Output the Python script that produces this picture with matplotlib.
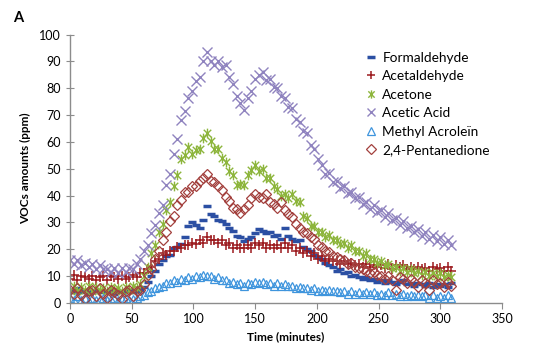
import matplotlib
matplotlib.use("Agg")
import matplotlib.pyplot as plt
from matplotlib.path import Path

plt.rcParams['font.family'] = ['Lato', 'DejaVu Sans']

time_min = list(range(0, 310, 3))

formaldehyde = [
    5, 4, 5.5, 4, 5, 3.5, 4.5, 5, 4, 4.5,
    4, 5, 3.5, 4.5, 4, 4.5, 5, 4, 4.5, 5,
    6, 8, 10, 12, 14.5, 16, 17.5, 18, 20.5, 21,
    22, 24.5, 28.5, 30, 29, 28, 31, 36, 33, 32.5,
    31, 30.5, 29.5, 28, 27, 25, 24.5, 23, 24, 24.5,
    26, 27.5, 27, 26, 26.5, 25, 25.5, 24, 28, 25,
    24, 23, 23.5, 21, 20, 19.5, 18, 17, 16.5, 15,
    14, 13.5, 12, 12.5, 11, 11.5, 10, 10.5, 9.5, 9,
    9.5, 8.5, 9, 8, 8.5, 7.5, 8.5, 8, 7, 8,
    8.5, 7, 7.5, 6.5, 7.5, 7, 6.5, 7.5, 6, 7,
    6.5, 7, 6, 7.5]

acetaldehyde = [
    9, 10.5, 8.5, 10, 9.5, 9, 10, 8.5, 9.5, 10,
    8.5, 10, 9.5, 9, 10, 9, 9.5, 10.5, 9.5, 11,
    11, 12.5, 13.5, 15.5, 16.5, 18.5, 18, 19.5, 19.5, 21,
    20.5, 21.5, 21.5, 22.5, 22, 23.5, 22.5, 24.5, 23.5, 23.5,
    22.5, 23.5, 21.5, 22.5, 20.5, 21.5, 20.5, 20.5, 21.5, 20.5,
    22.5, 21.5, 22.5, 20.5, 21.5, 20.5, 21.5, 20.5, 22.5, 20.5,
    21.5, 19.5, 20.5, 18.5, 19.5, 17.5, 18.5, 16.5, 17.5, 15.5,
    16.5, 15.5, 15.5, 14.5, 15.5, 14.5, 15, 14, 14.5, 13.5,
    14.5, 13.5, 14, 13.5, 14, 13, 14.5, 12.5, 14, 13.5,
    14, 12.5, 13.5, 12.5, 13.5, 12.5, 13, 12, 13.5, 12.5,
    13, 12, 13.5, 12]

acetone = [
    5, 6.5, 4.5, 6, 5, 6.5, 4.5, 6, 5, 5.5,
    4.5, 6, 5, 5.5, 4.5, 6, 5, 6.5, 5.5, 7,
    10, 13.5, 18.5, 21.5, 26.5, 29.5, 34.5, 37.5, 43.5, 47.5,
    53.5, 55, 58, 55.5, 57, 57.5, 61.5, 63.5, 60.5, 57.5,
    57.5, 54, 52.5, 49, 47.5, 44, 44.5, 44, 47.5, 49.5,
    51.5, 49, 50, 46.5, 46.5, 43.5, 42.5, 40, 40.5, 39,
    40.5, 38, 37.5, 32.5, 31.5, 28.5, 28.5, 26.5, 26.5, 24.5,
    25.5, 23.5, 23.5, 22, 22.5, 20.5, 21.5, 19.5, 19.5, 17.5,
    18.5, 16.5, 16.5, 15, 15.5, 14, 14.5, 13, 13.5, 12,
    13, 11.5, 12.5, 11, 12, 10.5, 11.5, 10, 11, 10,
    11, 9.5, 10.5, 9.5]

acetic_acid = [
    16, 14.5, 16, 14, 15, 13.5, 14.5, 12.5, 14, 12.5,
    12.5, 11.5, 13, 11, 13, 11.5, 13, 12.5, 14.5, 16.5,
    19.5, 21.5, 26, 29, 33.5, 36.5, 44, 48, 55.5, 61,
    68, 71.5, 76.5, 79, 82.5, 84, 90, 93.5, 90, 88.5,
    90, 88, 88.5, 84, 81.5, 77, 74.5, 72, 76.5, 79,
    83.5, 85, 86, 83, 83.5, 80.5, 80, 77, 76.5, 73,
    72.5, 68.5, 67.5, 64, 63.5, 59, 57.5, 53.5, 51.5, 48,
    48.5, 45, 45.5, 43, 43.5, 41, 41.5, 39, 39.5, 37,
    37.5, 35, 36.5, 34, 34.5, 32, 33.5, 31, 31.5, 29,
    30.5, 28, 28.5, 26.5, 27.5, 25, 26.5, 24, 25.5, 23,
    24.5, 22, 23.5, 21.5]

methyl_acrolein = [
    2, 1, 2.5, 1, 2, 0.8, 2, 1, 1.5, 2,
    1, 1.5, 2, 1, 1.5, 2, 1, 1.5, 2, 2.5,
    3, 4, 4.5, 5.5, 6, 6.5, 7.5, 7.5, 8.5, 8,
    9, 8.5, 9.5, 9, 10, 9.5, 10.5, 10, 10, 9,
    9.5, 8.5, 8.5, 7.5, 8, 7, 7.5, 6.5, 7.5, 7,
    8, 7.5, 8, 7, 7.5, 6.5, 7.5, 6.5, 7, 6.5,
    6.5, 5.5, 6, 5.5, 5.5, 5, 5.5, 4.5, 5, 4.5,
    5, 4.5, 4.5, 4, 4.5, 3.5, 4.5, 3.5, 4, 3.5,
    4, 3.5, 4, 3, 3.5, 3, 4, 3, 3.5, 2.5,
    3.5, 2.5, 3, 2.5, 3, 2.5, 3, 2, 3, 2,
    2.5, 2, 3, 2]

pentanedione = [
    5, 3.5, 5.5, 3, 1.5, 4.5, 5, 2.5, 5.5, 3.5,
    2, 5, 4, 3, 1.5, 4.5, 5, 2.5, 4.5, 5,
    7, 10.5, 12.5, 16.5, 19.5, 23.5, 26.5, 30.5, 32.5, 36.5,
    38.5, 41.5, 41.5, 43.5, 43.5, 45.5, 46.5, 48, 45.5, 45,
    43.5, 42, 39.5, 38, 35.5, 35, 33.5, 35, 36.5, 39,
    40.5, 39.5, 39, 40.5, 37.5, 37, 35.5, 37.5, 34.5, 33,
    32, 29.5, 28, 26.5, 26, 24.5, 24, 21.5, 21, 19.5,
    19, 17.5, 17, 16.5, 16, 14.5, 15, 13.5, 13, 12.5,
    12, 11, 11.5, 10.5, 10, 9, 10, 8.5, 5, 9.5,
    9, 7.5, 9, 8, 6, 8.5, 7.5, 5, 8.5, 7,
    7.5, 6, 8, 6.5]

labels = ["Formaldehyde", "Acetaldehyde", "Acetone", "Acetic Acid",
          "Methyl Acroleïn", "2,4-Pentanedione"]

# Excel-like star marker: x with vertical bar
star = Path([(-1, -1), (1, 1), (-1, 1), (1, -1), (0, -1.3), (0, 1.3)],
            [Path.MOVETO, Path.LINETO, Path.MOVETO, Path.LINETO,
             Path.MOVETO, Path.LINETO])

fig = plt.figure(figsize=(5.47, 3.48), dpi=100)
ax = fig.add_axes([70/547, 1-303/348, (502-70)/547, (303-34.5)/348])

styles = [
    (formaldehyde, dict(marker='_', color='#2b4fa3', ms=6, mew=2.5)),
    (acetaldehyde, dict(marker='+', color='#9c1b1f', ms=7, mew=1.1)),
    (acetone, dict(marker=star, color='#8db53c', ms=7, mew=1.0)),
    (acetic_acid, dict(marker='x', color='#8f83bf', ms=7, mew=1.0)),
    (methyl_acrolein, dict(marker='^', color='#3f95dd', mfc='none', ms=6, mew=0.9)),
    (pentanedione, dict(marker='D', color='#a3403d', mfc='none', ms=5.5, mew=0.9)),
]
handles = []
for (vals, st), lab in zip(styles, labels):
    h, = ax.plot(time_min, vals, linestyle='none', label=lab, **st)
    handles.append(h)

ax.set_xlim(0, 350)
ax.set_ylim(0, 100)
ax.set_xticks(range(0, 351, 50))
ax.set_yticks(range(0, 101, 10))
for s in ['top', 'right']:
    ax.spines[s].set_visible(False)
for s in ['left', 'bottom']:
    ax.spines[s].set_color('#8c8c8c')
    ax.spines[s].set_linewidth(1.0)
ax.tick_params(axis='both', colors='#8c8c8c', labelcolor='black',
               labelsize=9, length=4, direction='out')
ax.tick_params(axis='y', direction='inout', length=6)

ax.set_xlabel("Time (minutes)", fontsize=8.5, fontweight='bold', labelpad=4)
ax.set_ylabel("VOCs amounts (ppm)", fontsize=8.5, fontweight='bold', labelpad=6)

leg = fig.legend(handles=handles, loc='upper left',
                 bbox_to_anchor=(366/547, 1-51.5/348), frameon=False,
                 fontsize=9.8, handlelength=0.8, handletextpad=0.4,
                 labelspacing=0.48, borderaxespad=0, borderpad=0,
                 markerscale=0.85)

fig.text(13/547, 1-18/348, "A", fontsize=10.5, fontweight='bold',
         va='center', ha='left')

fig.savefig("out.png", dpi=100)
